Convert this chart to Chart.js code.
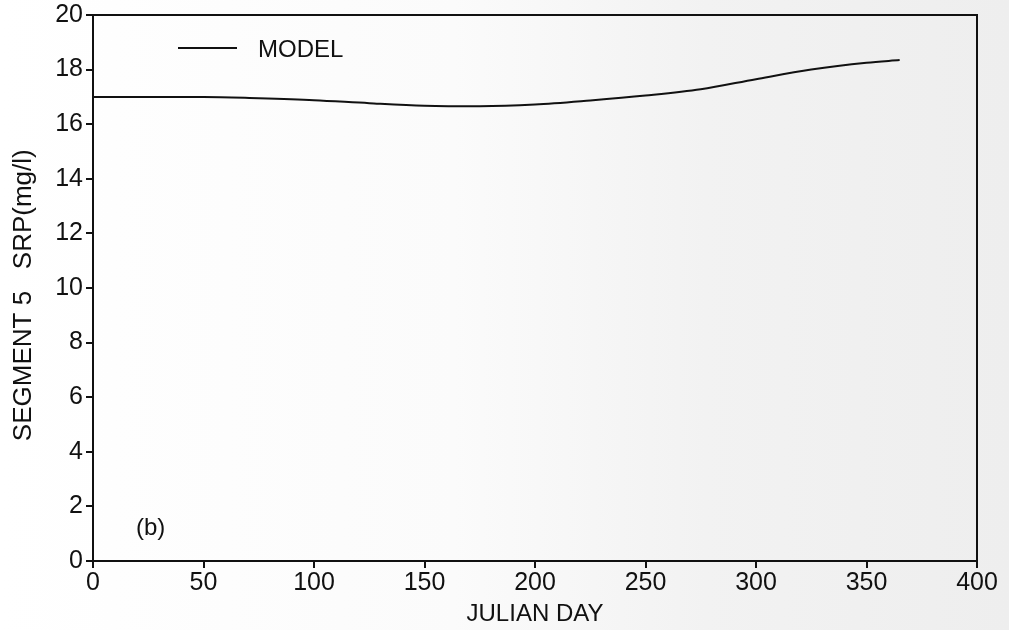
<!DOCTYPE html>
<html>
<head>
<meta charset="utf-8">
<script src="https://cdn.jsdelivr.net/npm/chart.js@4.4.1/dist/chart.umd.min.js"></script>
<style>
  html, body { margin: 0; padding: 0; background: #fff; }
  #wrap { width: 1009px; height: 630px; }
</style>
</head>
<body>
<div id="wrap"><canvas id="chart" width="1009" height="630"></canvas></div>
<script>
// model curve
const days = [0, 25, 50, 75, 100, 125, 150, 175, 200, 225, 250, 275, 300, 325, 350, 365];
const modelSrp = [17.0, 17.0, 17.0, 16.95, 16.88, 16.77, 16.68, 16.66, 16.72, 16.87, 17.05, 17.28, 17.65, 18.0, 18.25, 18.35];
const xTicks = [0, 50, 100, 150, 200, 250, 300, 350, 400];
const yTicks = [0, 2, 4, 6, 8, 10, 12, 14, 16, 18, 20];

const FONT = "'Liberation Sans', Arial, sans-serif";

// paper tint + frame + legend + panel tag
const paperPlugin = {
  id: "paper",
  beforeDraw(chart) {
    const { ctx, width, height } = chart;
    const g = ctx.createLinearGradient(0, 0, width, 0);
    g.addColorStop(0, "#ffffff");
    g.addColorStop(0.45, "#fbfbfb");
    g.addColorStop(0.7, "#f2f2f2");
    g.addColorStop(1, "#eeeeee");
    ctx.save();
    ctx.fillStyle = g;
    ctx.fillRect(0, 0, width, height);
    ctx.restore();
  },
  afterDraw(chart) {
    const { ctx, chartArea: a } = chart;
    ctx.save();
    ctx.strokeStyle = "#111";
    ctx.lineWidth = 2;
    ctx.strokeRect(a.left, a.top, a.right - a.left, a.bottom - a.top);

    // legend
    ctx.beginPath();
    ctx.moveTo(178, 48);
    ctx.lineTo(237, 48);
    ctx.stroke();
    ctx.fillStyle = "#111";
    ctx.font = "24px " + FONT;
    ctx.textBaseline = "middle";
    ctx.fillText(chart.data.datasets[0].label, 258, 50);

    ctx.fillText("(b)", 136, 528);
    ctx.restore();
  }
};

new Chart(document.getElementById("chart"), {
  type: "line",
  data: {
    datasets: [{
      label: "MODEL",
      data: days.map((d, i) => ({ x: d, y: modelSrp[i] })),
      borderColor: "#111",
      borderWidth: 2,
      pointRadius: 0,
      cubicInterpolationMode: "monotone",
      fill: false
    }]
  },
  options: {
    responsive: false,
    animation: false,
    layout: { padding: { top: 15, right: 32, left: 0, bottom: 0 } },
    plugins: { legend: { display: false }, tooltip: { enabled: false } },
    scales: {
      x: {
        type: "linear",
        min: 0, max: 400,
        afterBuildTicks(s) { s.ticks = xTicks.map(v => ({ value: v })); },
        afterFit(s) { s.height = 69; s.paddingLeft = 0; s.paddingRight = 0; },
        grid: { drawOnChartArea: false, drawTicks: true, tickLength: 7, color: "#111", lineWidth: 2 },
        border: { color: "#111", width: 2 },
        ticks: { color: "#111", font: { family: FONT, size: 25 }, padding: 0, maxRotation: 0 },
        title: { display: true, text: "JULIAN DAY", color: "#111", font: { family: FONT, size: 24 }, padding: { top: 0, bottom: 1 } }
      },
      y: {
        type: "linear",
        min: 0, max: 20,
        afterBuildTicks(s) { s.ticks = yTicks.map(v => ({ value: v })); },
        afterFit(s) { s.width = 93; s.paddingTop = 0; s.paddingBottom = 0; },
        grid: { drawOnChartArea: false, drawTicks: true, tickLength: 7, color: "#111", lineWidth: 2 },
        border: { color: "#111", width: 2 },
        ticks: { color: "#111", font: { family: FONT, size: 25 }, padding: 3 },
        title: { display: true, text: "SEGMENT 5   SRP(mg/l)  ", color: "#111", font: { family: FONT, size: 26 }, padding: { top: 8, bottom: 0 } }
      }
    }
  },
  plugins: [paperPlugin]
});
</script>
</body>
</html>
